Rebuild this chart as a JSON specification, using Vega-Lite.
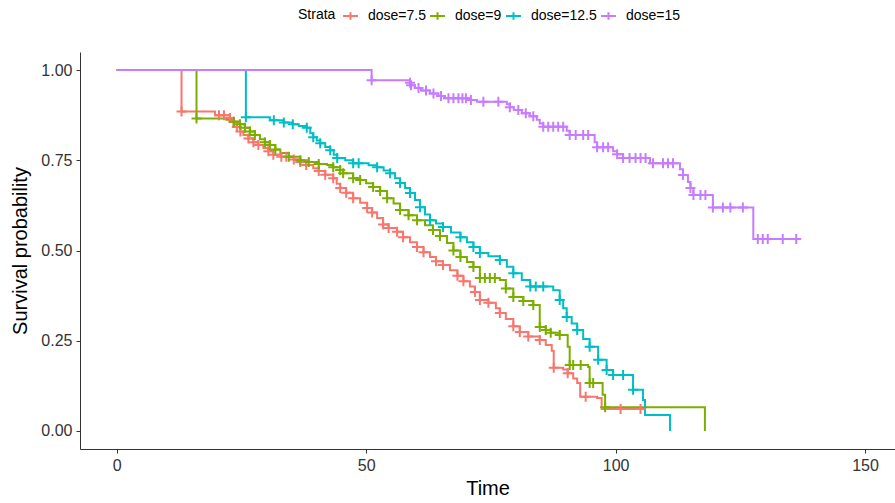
{
"$schema": "https://vega.github.io/schema/vega-lite/v6.json",
"width": 815, "height": 397,
"autosize": {"type": "none"},
"padding": {"left": 80, "top": 52, "right": 0, "bottom": 54},
"background": "white",
"config": {"view": {"stroke": null}, "font": "Liberation Sans"},
"data": {"values": [
{"strata":"dose=7.5","time":0,"surv":1,"cens":0},
{"strata":"dose=7.5","time":13.0,"surv":0.885,"cens":1},
{"strata":"dose=7.5","time":19.7,"surv":0.875,"cens":0},
{"strata":"dose=7.5","time":20.5,"surv":0.875,"cens":1},
{"strata":"dose=7.5","time":21.5,"surv":0.875,"cens":1},
{"strata":"dose=7.5","time":22.7,"surv":0.867,"cens":1},
{"strata":"dose=7.5","time":23.4,"surv":0.857,"cens":1},
{"strata":"dose=7.5","time":24.1,"surv":0.842,"cens":1},
{"strata":"dose=7.5","time":24.8,"surv":0.83,"cens":1},
{"strata":"dose=7.5","time":25.4,"surv":0.82,"cens":0},
{"strata":"dose=7.5","time":26.4,"surv":0.81,"cens":1},
{"strata":"dose=7.5","time":27.4,"surv":0.8,"cens":1},
{"strata":"dose=7.5","time":28.4,"surv":0.792,"cens":1},
{"strata":"dose=7.5","time":29.4,"surv":0.784,"cens":0},
{"strata":"dose=7.5","time":30.4,"surv":0.775,"cens":1},
{"strata":"dose=7.5","time":31.4,"surv":0.765,"cens":1},
{"strata":"dose=7.5","time":33.0,"surv":0.76,"cens":1},
{"strata":"dose=7.5","time":34.0,"surv":0.76,"cens":1},
{"strata":"dose=7.5","time":35.5,"surv":0.752,"cens":1},
{"strata":"dose=7.5","time":36.8,"surv":0.745,"cens":1},
{"strata":"dose=7.5","time":38.0,"surv":0.737,"cens":1},
{"strata":"dose=7.5","time":39.4,"surv":0.728,"cens":0},
{"strata":"dose=7.5","time":40.5,"surv":0.72,"cens":1},
{"strata":"dose=7.5","time":41.8,"surv":0.71,"cens":1},
{"strata":"dose=7.5","time":43.4,"surv":0.7,"cens":1},
{"strata":"dose=7.5","time":44.1,"surv":0.685,"cens":0},
{"strata":"dose=7.5","time":44.8,"surv":0.673,"cens":1},
{"strata":"dose=7.5","time":46.0,"surv":0.66,"cens":1},
{"strata":"dose=7.5","time":47.4,"surv":0.645,"cens":1},
{"strata":"dose=7.5","time":48.8,"surv":0.632,"cens":0},
{"strata":"dose=7.5","time":50.2,"surv":0.618,"cens":1},
{"strata":"dose=7.5","time":51.2,"surv":0.605,"cens":1},
{"strata":"dose=7.5","time":52.2,"surv":0.59,"cens":0},
{"strata":"dose=7.5","time":53.4,"surv":0.572,"cens":1},
{"strata":"dose=7.5","time":54.5,"surv":0.562,"cens":1},
{"strata":"dose=7.5","time":56.2,"surv":0.552,"cens":1},
{"strata":"dose=7.5","time":57.4,"surv":0.537,"cens":1},
{"strata":"dose=7.5","time":58.8,"surv":0.523,"cens":0},
{"strata":"dose=7.5","time":60.2,"surv":0.51,"cens":1},
{"strata":"dose=7.5","time":61.5,"surv":0.495,"cens":1},
{"strata":"dose=7.5","time":62.8,"surv":0.482,"cens":0},
{"strata":"dose=7.5","time":64.0,"surv":0.47,"cens":1},
{"strata":"dose=7.5","time":65.4,"surv":0.46,"cens":1},
{"strata":"dose=7.5","time":66.8,"surv":0.445,"cens":0},
{"strata":"dose=7.5","time":68.3,"surv":0.43,"cens":1},
{"strata":"dose=7.5","time":69.5,"surv":0.415,"cens":1},
{"strata":"dose=7.5","time":70.8,"surv":0.4,"cens":0},
{"strata":"dose=7.5","time":71.8,"surv":0.385,"cens":1},
{"strata":"dose=7.5","time":72.8,"surv":0.363,"cens":1},
{"strata":"dose=7.5","time":74.5,"surv":0.355,"cens":1},
{"strata":"dose=7.5","time":76.0,"surv":0.34,"cens":0},
{"strata":"dose=7.5","time":76.8,"surv":0.327,"cens":1},
{"strata":"dose=7.5","time":78.0,"surv":0.31,"cens":0},
{"strata":"dose=7.5","time":79.5,"surv":0.29,"cens":1},
{"strata":"dose=7.5","time":80.8,"surv":0.274,"cens":1},
{"strata":"dose=7.5","time":82.5,"surv":0.262,"cens":1},
{"strata":"dose=7.5","time":84.8,"surv":0.252,"cens":1},
{"strata":"dose=7.5","time":86.0,"surv":0.238,"cens":0},
{"strata":"dose=7.5","time":87.2,"surv":0.222,"cens":0},
{"strata":"dose=7.5","time":87.6,"surv":0.175,"cens":1},
{"strata":"dose=7.5","time":89.5,"surv":0.17,"cens":0},
{"strata":"dose=7.5","time":90.4,"surv":0.16,"cens":1},
{"strata":"dose=7.5","time":91.5,"surv":0.145,"cens":0},
{"strata":"dose=7.5","time":92.3,"surv":0.133,"cens":0},
{"strata":"dose=7.5","time":92.9,"surv":0.095,"cens":0},
{"strata":"dose=7.5","time":94.0,"surv":0.095,"cens":1},
{"strata":"dose=7.5","time":96.3,"surv":0.091,"cens":0},
{"strata":"dose=7.5","time":97.2,"surv":0.061,"cens":0},
{"strata":"dose=7.5","time":101.0,"surv":0.061,"cens":1},
{"strata":"dose=7.5","time":105.0,"surv":0.061,"cens":1},

{"strata":"dose=9","time":0,"surv":1,"cens":0},
{"strata":"dose=9","time":16.0,"surv":0.866,"cens":1},
{"strata":"dose=9","time":22.0,"surv":0.862,"cens":0},
{"strata":"dose=9","time":23.5,"surv":0.857,"cens":1},
{"strata":"dose=9","time":24.7,"surv":0.85,"cens":1},
{"strata":"dose=9","time":25.7,"surv":0.84,"cens":1},
{"strata":"dose=9","time":26.7,"surv":0.83,"cens":1},
{"strata":"dose=9","time":27.7,"surv":0.82,"cens":1},
{"strata":"dose=9","time":28.7,"surv":0.808,"cens":0},
{"strata":"dose=9","time":29.7,"surv":0.8,"cens":1},
{"strata":"dose=9","time":30.7,"surv":0.792,"cens":1},
{"strata":"dose=9","time":31.8,"surv":0.78,"cens":1},
{"strata":"dose=9","time":32.8,"surv":0.77,"cens":0},
{"strata":"dose=9","time":34.5,"surv":0.76,"cens":1},
{"strata":"dose=9","time":36.8,"surv":0.75,"cens":1},
{"strata":"dose=9","time":38.5,"surv":0.745,"cens":1},
{"strata":"dose=9","time":40.5,"surv":0.74,"cens":1},
{"strata":"dose=9","time":42.2,"surv":0.737,"cens":0},
{"strata":"dose=9","time":43.4,"surv":0.731,"cens":1},
{"strata":"dose=9","time":44.8,"surv":0.723,"cens":1},
{"strata":"dose=9","time":45.4,"surv":0.714,"cens":1},
{"strata":"dose=9","time":47.4,"surv":0.7,"cens":1},
{"strata":"dose=9","time":48.8,"surv":0.695,"cens":1},
{"strata":"dose=9","time":50.0,"surv":0.686,"cens":0},
{"strata":"dose=9","time":51.4,"surv":0.676,"cens":1},
{"strata":"dose=9","time":52.8,"surv":0.665,"cens":1},
{"strata":"dose=9","time":54.2,"surv":0.645,"cens":1},
{"strata":"dose=9","time":55.5,"surv":0.63,"cens":0},
{"strata":"dose=9","time":56.8,"surv":0.612,"cens":1},
{"strata":"dose=9","time":58.5,"surv":0.598,"cens":1},
{"strata":"dose=9","time":60.2,"surv":0.584,"cens":1},
{"strata":"dose=9","time":61.8,"surv":0.57,"cens":0},
{"strata":"dose=9","time":63.4,"surv":0.557,"cens":1},
{"strata":"dose=9","time":64.8,"surv":0.54,"cens":1},
{"strata":"dose=9","time":66.2,"surv":0.521,"cens":0},
{"strata":"dose=9","time":67.5,"surv":0.5,"cens":1},
{"strata":"dose=9","time":68.9,"surv":0.482,"cens":1},
{"strata":"dose=9","time":70.2,"surv":0.468,"cens":0},
{"strata":"dose=9","time":71.5,"surv":0.454,"cens":1},
{"strata":"dose=9","time":72.8,"surv":0.424,"cens":1},
{"strata":"dose=9","time":73.8,"surv":0.424,"cens":1},
{"strata":"dose=9","time":74.8,"surv":0.424,"cens":1},
{"strata":"dose=9","time":75.8,"surv":0.424,"cens":1},
{"strata":"dose=9","time":76.8,"surv":0.418,"cens":0},
{"strata":"dose=9","time":78.0,"surv":0.395,"cens":1},
{"strata":"dose=9","time":79.5,"surv":0.371,"cens":1},
{"strata":"dose=9","time":81.5,"surv":0.36,"cens":1},
{"strata":"dose=9","time":83.5,"surv":0.349,"cens":1},
{"strata":"dose=9","time":84.8,"surv":0.288,"cens":1},
{"strata":"dose=9","time":86.0,"surv":0.28,"cens":1},
{"strata":"dose=9","time":87.0,"surv":0.272,"cens":1},
{"strata":"dose=9","time":88.8,"surv":0.266,"cens":1},
{"strata":"dose=9","time":90.4,"surv":0.233,"cens":0},
{"strata":"dose=9","time":90.8,"surv":0.183,"cens":1},
{"strata":"dose=9","time":91.5,"surv":0.183,"cens":1},
{"strata":"dose=9","time":93.0,"surv":0.183,"cens":1},
{"strata":"dose=9","time":94.5,"surv":0.177,"cens":0},
{"strata":"dose=9","time":94.8,"surv":0.133,"cens":1},
{"strata":"dose=9","time":95.5,"surv":0.133,"cens":1},
{"strata":"dose=9","time":97.4,"surv":0.1,"cens":0},
{"strata":"dose=9","time":97.9,"surv":0.066,"cens":1},
{"strata":"dose=9","time":117.9,"surv":0,"cens":0},

{"strata":"dose=12.5","time":0,"surv":1,"cens":0},
{"strata":"dose=12.5","time":25.9,"surv":0.869,"cens":1},
{"strata":"dose=12.5","time":30.7,"surv":0.861,"cens":0},
{"strata":"dose=12.5","time":31.5,"surv":0.861,"cens":1},
{"strata":"dose=12.5","time":33.5,"surv":0.855,"cens":1},
{"strata":"dose=12.5","time":35.3,"surv":0.85,"cens":1},
{"strata":"dose=12.5","time":36.5,"surv":0.845,"cens":0},
{"strata":"dose=12.5","time":38.1,"surv":0.84,"cens":1},
{"strata":"dose=12.5","time":38.8,"surv":0.825,"cens":0},
{"strata":"dose=12.5","time":39.4,"surv":0.814,"cens":1},
{"strata":"dose=12.5","time":40.1,"surv":0.805,"cens":0},
{"strata":"dose=12.5","time":40.8,"surv":0.797,"cens":1},
{"strata":"dose=12.5","time":41.8,"surv":0.787,"cens":0},
{"strata":"dose=12.5","time":42.8,"surv":0.778,"cens":1},
{"strata":"dose=12.5","time":43.5,"surv":0.765,"cens":0},
{"strata":"dose=12.5","time":44.2,"surv":0.756,"cens":1},
{"strata":"dose=12.5","time":45.8,"surv":0.75,"cens":0},
{"strata":"dose=12.5","time":47.4,"surv":0.742,"cens":1},
{"strata":"dose=12.5","time":48.5,"surv":0.742,"cens":1},
{"strata":"dose=12.5","time":50.5,"surv":0.736,"cens":0},
{"strata":"dose=12.5","time":52.2,"surv":0.731,"cens":1},
{"strata":"dose=12.5","time":53.5,"surv":0.722,"cens":0},
{"strata":"dose=12.5","time":54.8,"surv":0.714,"cens":1},
{"strata":"dose=12.5","time":55.8,"surv":0.7,"cens":0},
{"strata":"dose=12.5","time":56.8,"surv":0.687,"cens":1},
{"strata":"dose=12.5","time":57.8,"surv":0.673,"cens":0},
{"strata":"dose=12.5","time":58.8,"surv":0.659,"cens":1},
{"strata":"dose=12.5","time":59.8,"surv":0.64,"cens":0},
{"strata":"dose=12.5","time":60.8,"surv":0.62,"cens":1},
{"strata":"dose=12.5","time":61.8,"surv":0.6,"cens":0},
{"strata":"dose=12.5","time":62.8,"surv":0.584,"cens":1},
{"strata":"dose=12.5","time":64.0,"surv":0.575,"cens":0},
{"strata":"dose=12.5","time":65.4,"surv":0.565,"cens":1},
{"strata":"dose=12.5","time":67.0,"surv":0.55,"cens":0},
{"strata":"dose=12.5","time":68.9,"surv":0.537,"cens":1},
{"strata":"dose=12.5","time":70.2,"surv":0.523,"cens":0},
{"strata":"dose=12.5","time":71.5,"surv":0.51,"cens":1},
{"strata":"dose=12.5","time":72.8,"surv":0.493,"cens":1},
{"strata":"dose=12.5","time":74.5,"surv":0.484,"cens":0},
{"strata":"dose=12.5","time":76.8,"surv":0.474,"cens":1},
{"strata":"dose=12.5","time":78.2,"surv":0.455,"cens":0},
{"strata":"dose=12.5","time":79.5,"surv":0.437,"cens":1},
{"strata":"dose=12.5","time":81.2,"surv":0.418,"cens":0},
{"strata":"dose=12.5","time":82.9,"surv":0.4,"cens":1},
{"strata":"dose=12.5","time":84.0,"surv":0.4,"cens":1},
{"strata":"dose=12.5","time":85.5,"surv":0.4,"cens":1},
{"strata":"dose=12.5","time":87.5,"surv":0.39,"cens":0},
{"strata":"dose=12.5","time":88.8,"surv":0.363,"cens":1},
{"strata":"dose=12.5","time":89.5,"surv":0.34,"cens":0},
{"strata":"dose=12.5","time":90.2,"surv":0.316,"cens":1},
{"strata":"dose=12.5","time":91.2,"surv":0.298,"cens":0},
{"strata":"dose=12.5","time":92.3,"surv":0.28,"cens":1},
{"strata":"dose=12.5","time":93.5,"surv":0.255,"cens":0},
{"strata":"dose=12.5","time":94.8,"surv":0.233,"cens":1},
{"strata":"dose=12.5","time":96.5,"surv":0.197,"cens":1},
{"strata":"dose=12.5","time":98.2,"surv":0.169,"cens":1},
{"strata":"dose=12.5","time":99.5,"surv":0.155,"cens":1},
{"strata":"dose=12.5","time":101.5,"surv":0.155,"cens":1},
{"strata":"dose=12.5","time":103.5,"surv":0.114,"cens":1},
{"strata":"dose=12.5","time":105.5,"surv":0.086,"cens":0},
{"strata":"dose=12.5","time":105.9,"surv":0.044,"cens":0},
{"strata":"dose=12.5","time":110.9,"surv":0,"cens":0},

{"strata":"dose=15","time":0,"surv":1,"cens":0},
{"strata":"dose=15","time":51.1,"surv":0.972,"cens":1},
{"strata":"dose=15","time":58.8,"surv":0.965,"cens":1},
{"strata":"dose=15","time":59.0,"surv":0.958,"cens":1},
{"strata":"dose=15","time":59.8,"surv":0.95,"cens":0},
{"strata":"dose=15","time":60.5,"surv":0.95,"cens":1},
{"strata":"dose=15","time":61.0,"surv":0.943,"cens":0},
{"strata":"dose=15","time":62.0,"surv":0.943,"cens":1},
{"strata":"dose=15","time":62.8,"surv":0.935,"cens":0},
{"strata":"dose=15","time":63.5,"surv":0.935,"cens":1},
{"strata":"dose=15","time":64.5,"surv":0.928,"cens":0},
{"strata":"dose=15","time":65.0,"surv":0.928,"cens":1},
{"strata":"dose=15","time":65.6,"surv":0.922,"cens":0},
{"strata":"dose=15","time":66.5,"surv":0.922,"cens":1},
{"strata":"dose=15","time":67.5,"surv":0.922,"cens":1},
{"strata":"dose=15","time":68.5,"surv":0.922,"cens":1},
{"strata":"dose=15","time":69.3,"surv":0.922,"cens":1},
{"strata":"dose=15","time":70.0,"surv":0.922,"cens":1},
{"strata":"dose=15","time":70.5,"surv":0.917,"cens":0},
{"strata":"dose=15","time":71.0,"surv":0.917,"cens":1},
{"strata":"dose=15","time":72.2,"surv":0.912,"cens":0},
{"strata":"dose=15","time":73.5,"surv":0.912,"cens":1},
{"strata":"dose=15","time":76.5,"surv":0.912,"cens":1},
{"strata":"dose=15","time":78.2,"surv":0.905,"cens":0},
{"strata":"dose=15","time":78.8,"surv":0.897,"cens":1},
{"strata":"dose=15","time":79.6,"surv":0.889,"cens":0},
{"strata":"dose=15","time":80.5,"surv":0.889,"cens":1},
{"strata":"dose=15","time":81.2,"surv":0.88,"cens":0},
{"strata":"dose=15","time":82.0,"surv":0.88,"cens":1},
{"strata":"dose=15","time":82.8,"surv":0.872,"cens":0},
{"strata":"dose=15","time":83.5,"surv":0.872,"cens":1},
{"strata":"dose=15","time":84.2,"surv":0.862,"cens":0},
{"strata":"dose=15","time":84.8,"surv":0.852,"cens":0},
{"strata":"dose=15","time":85.5,"surv":0.843,"cens":1},
{"strata":"dose=15","time":86.5,"surv":0.843,"cens":1},
{"strata":"dose=15","time":87.5,"surv":0.843,"cens":1},
{"strata":"dose=15","time":88.5,"surv":0.843,"cens":1},
{"strata":"dose=15","time":89.5,"surv":0.843,"cens":1},
{"strata":"dose=15","time":90.2,"surv":0.832,"cens":0},
{"strata":"dose=15","time":90.8,"surv":0.82,"cens":1},
{"strata":"dose=15","time":92.0,"surv":0.82,"cens":1},
{"strata":"dose=15","time":93.5,"surv":0.82,"cens":1},
{"strata":"dose=15","time":94.5,"surv":0.82,"cens":1},
{"strata":"dose=15","time":95.8,"surv":0.8,"cens":0},
{"strata":"dose=15","time":96.3,"surv":0.786,"cens":1},
{"strata":"dose=15","time":97.5,"surv":0.786,"cens":1},
{"strata":"dose=15","time":98.5,"surv":0.786,"cens":1},
{"strata":"dose=15","time":99.5,"surv":0.775,"cens":0},
{"strata":"dose=15","time":100.3,"surv":0.767,"cens":1},
{"strata":"dose=15","time":101.5,"surv":0.756,"cens":1},
{"strata":"dose=15","time":102.8,"surv":0.756,"cens":1},
{"strata":"dose=15","time":104.0,"surv":0.756,"cens":1},
{"strata":"dose=15","time":105.0,"surv":0.756,"cens":1},
{"strata":"dose=15","time":106.0,"surv":0.756,"cens":1},
{"strata":"dose=15","time":106.9,"surv":0.742,"cens":0},
{"strata":"dose=15","time":107.5,"surv":0.742,"cens":1},
{"strata":"dose=15","time":109.5,"surv":0.742,"cens":1},
{"strata":"dose=15","time":110.5,"surv":0.742,"cens":1},
{"strata":"dose=15","time":111.5,"surv":0.742,"cens":1},
{"strata":"dose=15","time":112.9,"surv":0.725,"cens":0},
{"strata":"dose=15","time":113.5,"surv":0.709,"cens":1},
{"strata":"dose=15","time":114.5,"surv":0.69,"cens":0},
{"strata":"dose=15","time":115.0,"surv":0.673,"cens":1},
{"strata":"dose=15","time":115.6,"surv":0.654,"cens":1},
{"strata":"dose=15","time":117.0,"surv":0.654,"cens":1},
{"strata":"dose=15","time":118.0,"surv":0.654,"cens":1},
{"strata":"dose=15","time":119.5,"surv":0.619,"cens":1},
{"strata":"dose=15","time":121.5,"surv":0.619,"cens":1},
{"strata":"dose=15","time":123.0,"surv":0.619,"cens":1},
{"strata":"dose=15","time":125.5,"surv":0.619,"cens":1},
{"strata":"dose=15","time":127.6,"surv":0.532,"cens":0},
{"strata":"dose=15","time":128.5,"surv":0.532,"cens":1},
{"strata":"dose=15","time":129.5,"surv":0.532,"cens":1},
{"strata":"dose=15","time":130.5,"surv":0.532,"cens":1},
{"strata":"dose=15","time":133.5,"surv":0.532,"cens":1},
{"strata":"dose=15","time":136.2,"surv":0.532,"cens":1}
]},
"encoding": {
  "x": {"field": "time", "type": "quantitative",
    "scale": {"domain": [-7.35, 156], "nice": false, "zero": false},
    "axis": {"values": [0, 50, 100, 150], "title": "Time", "grid": false,
      "titleFontSize": 20, "titleFontWeight": "normal", "titleColor": "black", "titlePadding": 5,
      "labelFontSize": 16, "labelColor": "#333333", "labelPadding": 4,
      "tickSize": 4, "tickColor": "#333333", "domainColor": "#333333", "domainWidth": 1}},
  "y": {"field": "surv", "type": "quantitative",
    "scale": {"domain": [-0.05, 1.05], "nice": false, "zero": false},
    "axis": {"values": [0, 0.25, 0.5, 0.75, 1], "format": ".2f", "title": "Survival probability", "grid": false,
      "titleFontSize": 20, "titleFontWeight": "normal", "titleColor": "black", "titlePadding": 10,
      "labelFontSize": 16, "labelColor": "#333333", "labelPadding": 4,
      "tickSize": 4, "tickColor": "#333333", "domainColor": "#333333", "domainWidth": 1}},
  "color": {"field": "strata", "type": "nominal",
    "scale": {"domain": ["dose=7.5", "dose=9", "dose=12.5", "dose=15"],
              "range": ["#F8766D", "#7CAE00", "#00BFC4", "#C77CFF"]},
    "legend": {"title": "Strata", "orient": "none", "legendX": 218, "legendY": -45,
      "direction": "horizontal", "titleOrient": "left", "titleFontSize": 14, "titleFontWeight": "normal",
      "titleColor": "black", "labelFontSize": 14, "labelColor": "black", "titlePadding": 6,
      "symbolType": "M-1,0H1M0,-0.5V0.5", "symbolSize": 225, "symbolStrokeWidth": 2,
      "symbolFillColor": "transparent", "columnPadding": 0, "labelOffset": 9}}
},
"layer": [
  {"mark": {"type": "line", "interpolate": "step-after", "strokeWidth": 2}},
  {"transform": [{"filter": "datum.cens == 1"}],
   "mark": {"type": "point", "shape": "M-1,0H1M0,-1V1", "size": 100, "strokeWidth": 2, "filled": false, "opacity": 1}}
]
}
